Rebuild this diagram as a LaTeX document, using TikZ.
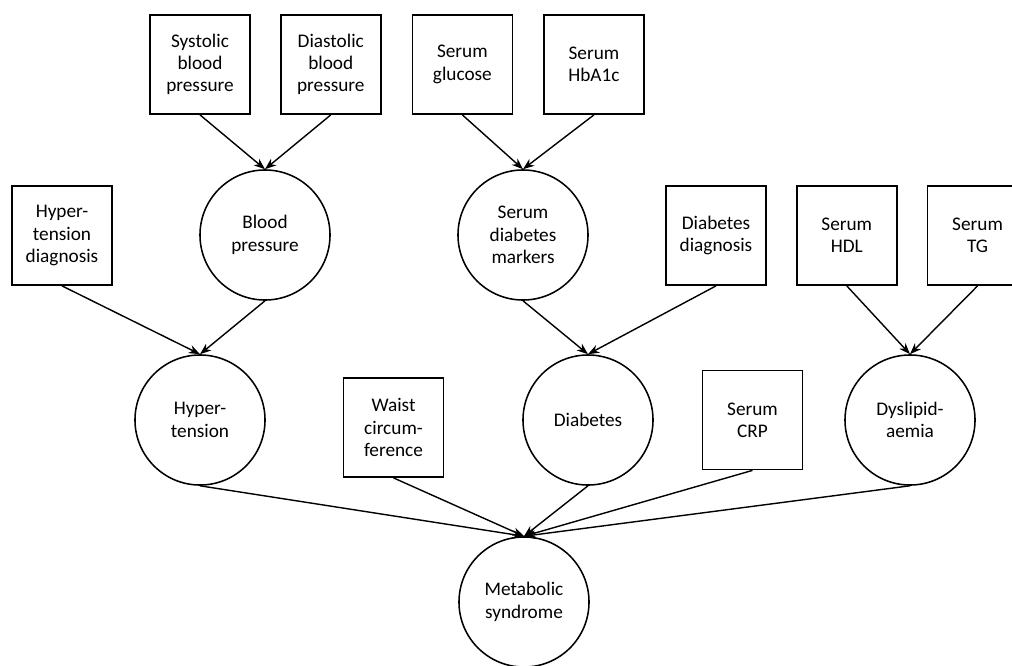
\documentclass[tikz,border=0pt]{standalone}
\usepackage{fontspec}
\setmainfont{Carlito}
\usetikzlibrary{positioning}
\usetikzlibrary{arrows.meta}

\begin{document}
\begin{tikzpicture}[x=0.025cm, y=-0.025cm,
		obs/.style={draw, line width=1.1pt, minimum width=2.5cm, minimum height=2.48cm, align=center, inner sep=2pt},
		lat/.style={draw, line width=1.1pt, circle, minimum size=3.25cm, align=center, inner sep=1pt},
		edge/.style={-{Stealth[length=8pt, width=6pt, inset=2.5pt]}, line width=1pt},
		font=\fontsize{13.7pt}{15.9pt}\selectfont]
		\useasboundingbox (0,0) rectangle (1012,665);
		
		%top row measurements
		\node (sbp) [obs] at (200,64.5) {Systolic\\blood\\pressure};
		\node (dbp) [obs, right = 0.73cm of sbp] {Diastolic\\blood\\pressure};
		\node (glu) [obs, right = 0.75cm of dbp] {Serum\\glucose};
		\node (hba) [obs, right = 0.75cm of glu] {Serum\\HbA1c};
		
		%second row
		\node (htd) [obs] at (62,235.5) {Hyper-\\tension\\diagnosis};
		\node (bp) [lat] at (265,235) {Blood\\pressure};
		\node (sdm) [lat] at (523,235) {Serum\\diabetes\\markers};
		\node (dbd) [obs] at (716,235.5) {Diabetes\\diagnosis};
		\node (hdl) [obs, right = 0.73cm of dbd] {Serum\\HDL};
		\node (tg) [obs, right = 0.73cm of hdl] {Serum\\TG};
		
		%third row
		\node (ht) [lat] at (200,420) {Hyper-\\tension};
		\node (waist) [obs] at (393.5,427.5) {Waist\\circum-\\ference};
		\node (db) [lat] at (588,420) {Diabetes};
		\node (crp) [obs] at (752.5,420) {Serum\\CRP};
		\node (dys) [lat] at (910,420) {Dyslipid-\\aemia};
		
		%outcome
		\node (ms) [lat] at (524,602) {Metabolic\\syndrome};
		
		\draw[edge] (sbp.south) -- (bp.north);
		\draw[edge] (dbp.south) -- (bp.north);
		\draw[edge] (glu.south) -- (sdm.north);
		\draw[edge] (hba.south) -- (sdm.north);
		\draw[edge] (htd.south) -- (ht.north);
		\draw[edge] (bp.south) -- (ht.north);
		\draw[edge] (sdm.south) -- (db.north);
		\draw[edge] (dbd.south) -- (db.north);
		\draw[edge] (hdl.south) -- (dys.north);
		\draw[edge] (tg.south) -- (dys.north);
		\draw[edge] (ht.south) -- (ms.north);
		\draw[edge] (waist.south) -- (ms.north);
		\draw[edge] (db.south) -- (ms.north);
		\draw[edge] (crp.south) -- (ms.north);
		\draw[edge] (dys.south) -- (ms.north);
\end{tikzpicture}
\end{document}
